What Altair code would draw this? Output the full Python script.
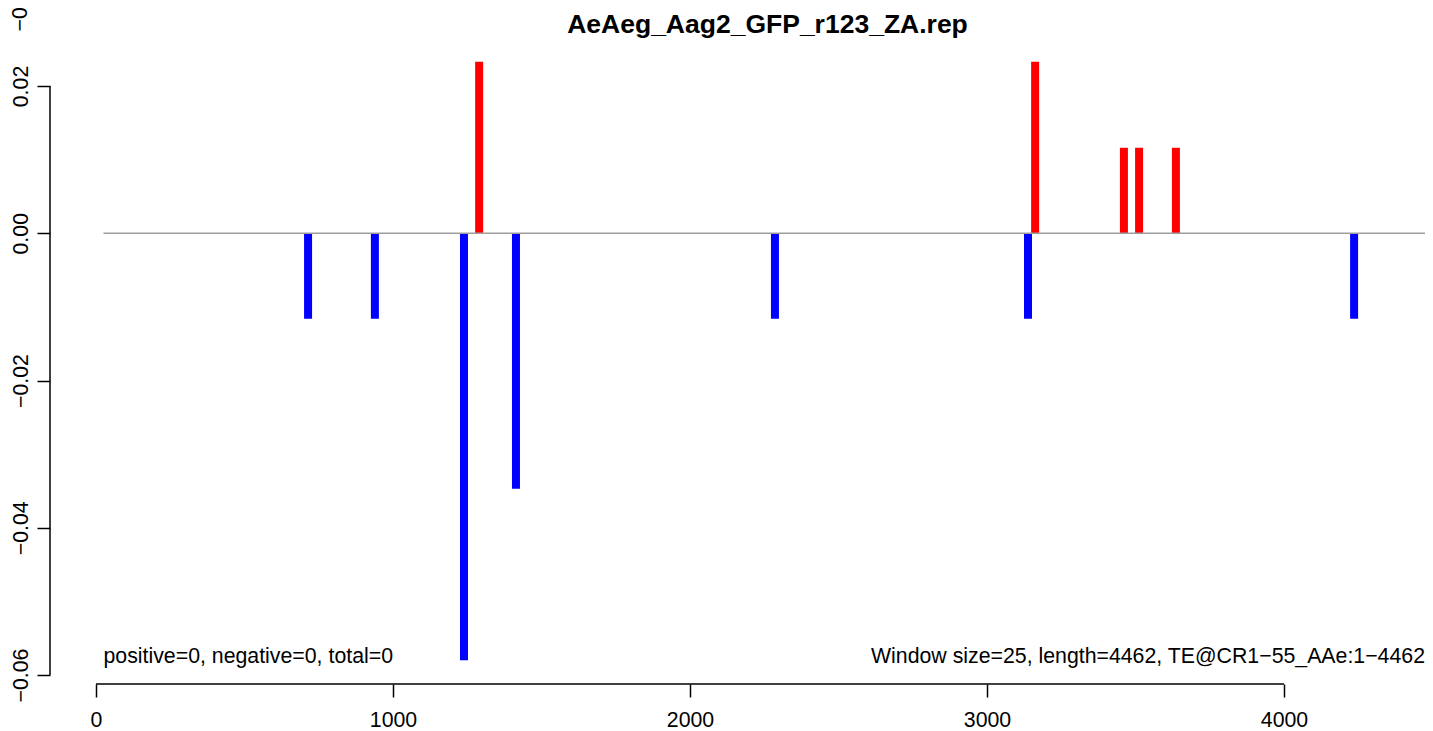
import altair as alt
import pandas as pd

# ---- text ----
title_text = "AeAeg_Aag2_GFP_r123_ZA.rep"
left_note = "positive=0, negative=0, total=0"
right_note = "Window size=25, length=4462, TE@CR1\u221255_AAe:1\u22124462"
clipped_label = "\u22120."

# ---- data ----
pos_x = [1290, 3162, 3461, 3512, 3636]
pos_val = [0.0233, 0.0233, 0.0116, 0.0116, 0.0116]
neg_x = [714, 939, 1239, 1414, 2286, 3138, 4236]
neg_val = [-0.0116, -0.0116, -0.0580, -0.0347, -0.0116, -0.0116, -0.0116]

x_ticks = [0, 1000, 2000, 3000, 4000]
y_ticks = [-0.06, -0.04, -0.02, 0.00, 0.02]
x_domain = [-154.9, 4474.7]
y_domain = [-0.06122, 0.02652]
zero_start = 25

W, H = 1375, 646
FONT = "Liberation Sans"
FS = 21.3

bars_df = pd.DataFrame({
    "pos": pos_x + neg_x,
    "value": pos_val + neg_val,
    "strand": ["pos"] * len(pos_x) + ["neg"] * len(neg_x),
    "base": [0.0] * (len(pos_x) + len(neg_x)),
})

xscale = alt.Scale(domain=x_domain, nice=False, zero=False)
yscale = alt.Scale(domain=y_domain, nice=False, zero=False)

xaxis = alt.Axis(values=x_ticks, format="d", domain=False, grid=False,
                 ticks=True, tickSize=13, tickWidth=1.5, tickColor="black",
                 labelFont=FONT, labelFontSize=FS, labelColor="black",
                 labelPadding=29, labelBaseline="alphabetic", labelAlign="center",
                 labelFlush=False, labelOverlap=False, title=None)
yaxis = alt.Axis(values=y_ticks, format=".2f", domain=False, grid=False,
                 ticks=True, tickSize=13, tickWidth=1.5, tickColor="black",
                 labelFont=FONT, labelFontSize=FS, labelColor="black",
                 labelAngle=270, labelAlign="center", labelBaseline="alphabetic",
                 labelPadding=10, labelFlush=False, labelOverlap=False, title=None)

bars = alt.Chart(bars_df).mark_rule(strokeWidth=8, strokeCap="butt").encode(
    x=alt.X("pos:Q", scale=xscale, axis=xaxis),
    y=alt.Y("value:Q", scale=yscale, axis=yaxis),
    y2=alt.Y2("base:Q"),
    color=alt.Color("strand:N", scale=alt.Scale(domain=["pos", "neg"], range=["#ff0000", "#0000ff"]), legend=None),
)

zero_df = pd.DataFrame({"x0": [zero_start], "x1": [x_domain[1]], "y": [0.0]})
zero_line = alt.Chart(zero_df).mark_rule(color="#9e9e9e", strokeWidth=1.5).encode(
    x=alt.X("x0:Q", scale=xscale, axis=xaxis),
    x2="x1:Q",
    y=alt.Y("y:Q", scale=yscale, axis=yaxis),
)

yax_df = pd.DataFrame({"lo": [min(y_ticks)], "hi": [max(y_ticks)]})
y_axis_line = alt.Chart(yax_df).mark_rule(color="black", strokeWidth=1.5).encode(
    x=alt.value(0),
    y=alt.Y("lo:Q", scale=yscale, axis=yaxis),
    y2="hi:Q",
)
xax_df = pd.DataFrame({"lo": [min(x_ticks)], "hi": [max(x_ticks)]})
x_axis_line = alt.Chart(xax_df).mark_rule(color="black", strokeWidth=1.5).encode(
    y=alt.value(H),
    x=alt.X("lo:Q", scale=xscale, axis=xaxis),
    x2="hi:Q",
)

title_mark = alt.Chart(pd.DataFrame({"t": [title_text]})).mark_text(
    font=FONT, fontSize=26.5, fontWeight="bold", color="black",
    align="center", baseline="alphabetic").encode(
    text="t:N", x=alt.value(717.5), y=alt.value(-5))

left_mark = alt.Chart(pd.DataFrame({"t": [left_note]})).mark_text(
    font=FONT, fontSize=FS, color="black", align="left", baseline="alphabetic").encode(
    text="t:N", x=alt.value(53.5), y=alt.value(625))

right_mark = alt.Chart(pd.DataFrame({"t": [right_note]})).mark_text(
    font=FONT, fontSize=FS, color="black", align="right", baseline="alphabetic").encode(
    text="t:N", x=alt.value(W), y=alt.value(625))

clip_mark = alt.Chart(pd.DataFrame({"t": [clipped_label]})).mark_text(
    font=FONT, fontSize=FS, color="black", align="left", baseline="alphabetic", angle=270).encode(
    text="t:N", x=alt.value(-23), y=alt.value(-6.5))

chart = alt.layer(
    bars, zero_line, y_axis_line, x_axis_line, title_mark, left_mark, right_mark, clip_mark
).properties(
    width=W, height=H,
    padding={"left": 42, "top": 30, "right": 0, "bottom": 47},
    autosize=alt.AutoSizeParams(type="none"),
    background="white",
).configure_view(stroke=None)

chart.save("out.html", embed_options={"renderer": "svg", "actions": False})
